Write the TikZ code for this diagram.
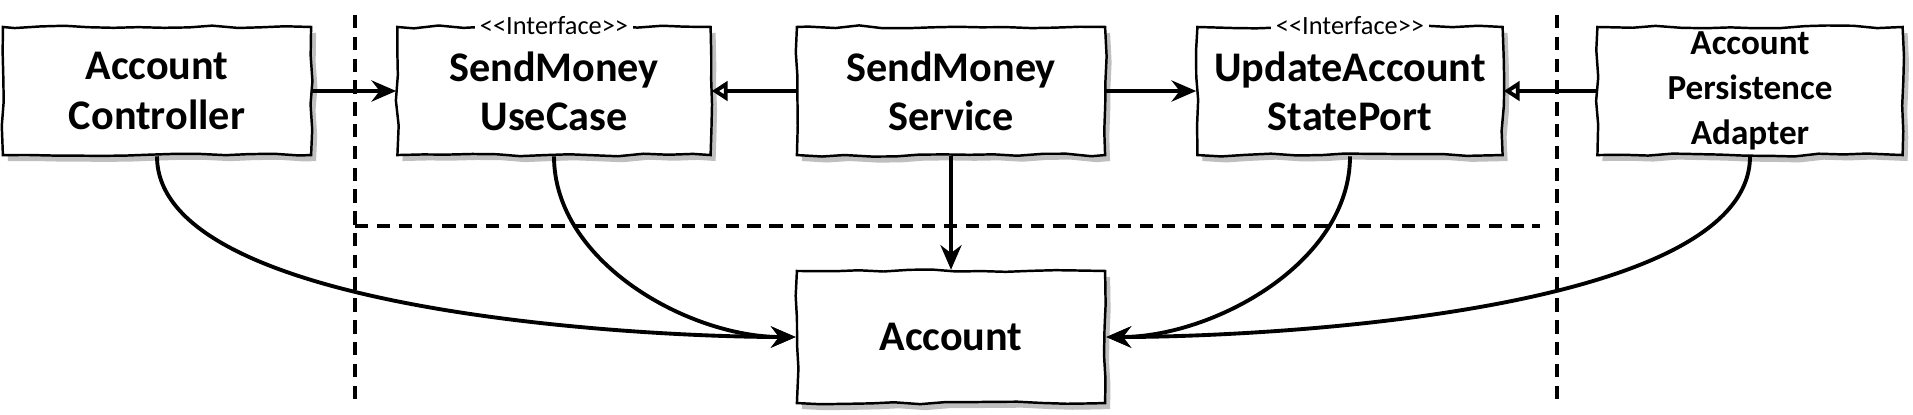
\documentclass[tikz,border=0pt]{standalone}
\usepackage{fontspec}
\setmainfont{Carlito}
\usetikzlibrary{arrows.meta,positioning,shadows,decorations.pathmorphing}

\begin{document}
\pgfmathsetseed{11}
\begin{tikzpicture}[x=0.01cm, y=-0.01cm,
    box/.style={draw, fill=white, line width=0.7pt, align=center,
      minimum width=3.08cm, minimum height=1.28cm, inner sep=1pt,
      font=\bfseries\fontsize{12}{14}\selectfont,
      decorate, decoration={random steps, segment length=7pt, amplitude=0.45pt},
      drop shadow={shadow xshift=0.05cm, shadow yshift=-0.06cm, fill=black!25, opacity=1}},
    stereo/.style={fill=white, inner sep=1.5pt, font=\fontsize{7.5}{8}\selectfont},
    uses/.style={line width=1.1pt, -{Stealth[length=7pt,width=6pt]}},
    impl/.style={line width=1.1pt, -{Triangle[open,length=4.5pt,width=5.5pt,line width=1.1pt]}},
    border/.style={line width=1.1pt, dash pattern=on 3.8pt off 2.4pt}]

  \useasboundingbox (0,0) rectangle (1913,414);

  % layer borders
  \draw[border] (355,15) -- (355,404);
  \draw[border] (1557,15) -- (1557,404);
  \draw[border] (355,226) -- (1540,226);

  % boxes
  \node[box] (controller) at (157,91) {Account\\Controller};
  \node[box, minimum width=3.13cm] (usecase) at (554,91) {SendMoney\\UseCase};
  \node[box] (service) at (951,91) {SendMoney\\Service};
  \node[box, minimum width=3.05cm] (port) at (1350,91) {UpdateAccount\\StatePort};
  \node[box, minimum width=3.05cm, font=\bfseries\fontsize{10}{12.8}\selectfont] (adapter) at (1750,91) {Account\\Persistence\\Adapter};
  \node[box, minimum height=1.32cm] (account) at (951,337) {Account};

  \node[stereo] (usecaselbl) at (usecase.north) {<{}<Interface>{}>};
  \node[stereo] (portlbl) at (port.north) {<{}<Interface>{}>};

  % arrows
  \draw[uses] (controller.east) -- (usecase.west);
  \draw[impl] (service.west) -- (usecase.east);
  \draw[uses] (service.east) -- (port.west);
  \draw[impl] (adapter.west) -- (port.east);
  \draw[uses] (service.south) -- (account.north);

  \draw[uses] (controller.south) to[out=-90, in=180, looseness=0.6] (account.west);
  \draw[uses] (usecase.south) to[out=-90, in=180, looseness=0.9] (account.west);
  \draw[uses] (port.south) to[out=-90, in=0, looseness=0.9] (account.east);
  \draw[uses] (adapter.south) to[out=-90, in=0, looseness=0.6] (account.east);
\end{tikzpicture}
\end{document}
